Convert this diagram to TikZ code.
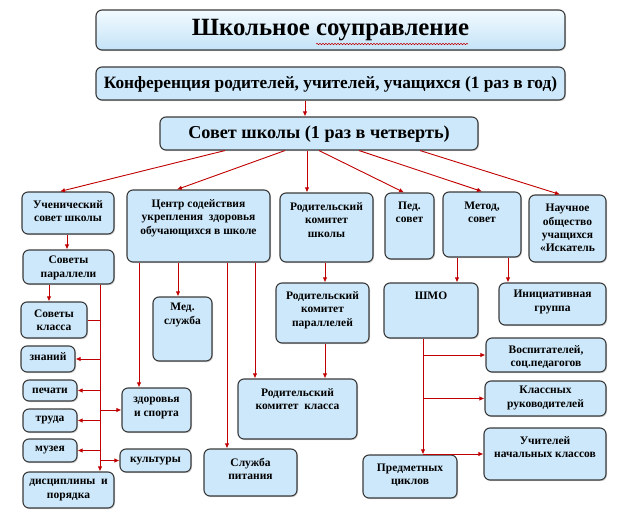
\documentclass[tikz,border=0pt]{standalone}
\usepackage{fontspec}
\setmainfont{Liberation Serif}
\usetikzlibrary{arrows.meta,shadows,calc,decorations.pathmorphing}
\definecolor{boxc}{HTML}{CDE8FA}
\definecolor{bordc}{HTML}{3A3A3A}
\definecolor{arrc}{HTML}{C00000}
\definecolor{titletop}{HTML}{F2FAFF}
\definecolor{titlebot}{HTML}{C4E3F7}
\tikzset{
 box/.style={draw=bordc, fill=boxc, line width=1.1pt, rounded corners=6pt, inner sep=0pt,
   drop shadow={shadow xshift=1pt,shadow yshift=-1.2pt,opacity=0.35}},
 lbl/.style={align=center, font=\bfseries\fontsize{11.5}{13.3}\selectfont, inner sep=0pt},
 arr/.style={draw=arrc, line width=0.9pt, -{Latex[length=5pt,width=4.5pt]}},
 ln/.style={draw=arrc, line width=0.9pt},
 squig/.style={decorate, decoration={snake, amplitude=0.7pt, segment length=3pt}, line width=0.5pt},
}
\newcommand{\mybox}[7]{%
 \node[box, minimum width={(#4-#2)*1pt}, minimum height={(#5-#3)*1pt}] (#1) at ({(#2+#4)/2},{-(#3+#5)/2}) {};
 \node[lbl] (#1t) at ({(#2+#4)/2},{-#6}) {#7};}
\begin{document}
\begin{tikzpicture}[x=1pt,y=1pt]
\useasboundingbox (0,0) rectangle (627,-514);
% title
\node[box, top color=titletop, bottom color=titlebot, minimum width=469pt, minimum height=40pt] (title) at (330.5,-30) {};
\node[font=\bfseries\fontsize{24.8}{26}\selectfont, inner sep=0pt] (titlet) at (330.5,-30) {Школьное соуправление};
\draw[arrc, squig] (316,-44) -- (468,-44);
% conference, council
\node[box, minimum width=469pt, minimum height=33pt] (conf) at (330.5,-83.5) {};
\node[font=\bfseries\fontsize{17.3}{19}\selectfont, inner sep=0pt] (conft) at (330.5,-84) {Конференция родителей, учителей, учащихся (1 раз в год)};
\node[box, minimum width=318pt, minimum height=33pt] (council) at (319,-133.5) {};
\node[font=\bfseries\fontsize{18.2}{20}\selectfont, inner sep=0pt] (councilt) at (319,-134) {Совет школы (1 раз в четверть)};
% boxes
\mybox{uch}{22}{192}{114}{234}{211}{Ученический\\совет школы}
\mybox{sovpar}{23}{250}{114}{284}{268}{Советы\\параллели}
\mybox{sovkl}{21}{302}{87}{338}{320}{Советы\\класса}
\mybox{znan}{21}{346}{75}{372}{357}{знаний}
\mybox{pech}{23}{380}{77}{401}{391}{печати}
\mybox{trud}{23}{409}{77}{432}{420}{труда}
\mybox{muz}{23}{439}{77}{462}{450}{музея}
\mybox{disc}{23}{472}{114}{508}{490}{дисциплины\ \ и\\порядка}
\mybox{centr}{127}{190}{270}{262}{218}{Центр содействия\\укрепления\ \ здоровья\\обучающихся в школе}
\mybox{med}{153}{297}{212}{361}{315}{Мед.\\служба}
\mybox{zdor}{122}{388}{191}{432}{408}{здоровья\\и спорта}
\mybox{kult}{120}{449}{191}{472}{461}{культуры}
\mybox{sluzh}{204}{449}{297}{496}{469}{Служба\\питания}
\mybox{rkk}{238}{379}{357}{439}{399}{Родительский\\комитет\ \ класса}
\mybox{rks}{280}{193}{373}{262}{220}{Родительский\\комитет\\школы}
\mybox{rkp}{276}{283}{369}{343}{310}{Родительский\\комитет\\параллелей}
\mybox{ped}{385}{193}{434}{259}{212}{Пед.\\совет}
\mybox{metod}{443}{192}{521}{257}{212}{Метод,\\совет}
\mybox{nauch}{529}{195}{606}{262}{228}{Научное\\общество\\учащихся\\«Искатель}
\mybox{shmo}{384}{283}{478}{338}{296}{ШМО}
\mybox{init}{499}{283}{606}{325}{302}{Инициативная\\группа}
\mybox{vosp}{486}{338}{606}{372}{357}{Воспитателей,\\соц.педагогов}
\mybox{klass}{485}{381}{606}{416}{398}{Классных\\руководителей}
\mybox{uchit}{484}{428}{606}{480}{447}{Учителей\\начальных классов}
\mybox{pred}{363}{455}{457}{498}{475}{Предметных\\циклов}
% connectors top
\draw[arr] (conf.south -| 305,0) -- (council.north -| 305,0);
\draw[arr] (council.south -| 225,0) -- (uch.north -| 60,0);
\draw[arr] (council.south -| 285,0) -- (centr.north -| 177,0);
\draw[arr] (council.south -| 307,0) -- (rks.north -| 307,0);
\draw[arr] (council.south -| 319,0) -- (ped.north -| 404,0);
\draw[arr] (council.south -| 359,0) -- (metod.north -| 482,0);
\draw[arr] (council.south -| 420,0) -- (nauch.north -| 560,0);
% left column
\draw[arr] (uch.south -| 67,0) -- (sovpar.north -| 67,0);
\draw[arr] (sovpar.south -| 49,0) -- (sovkl.north -| 49,0);
\draw[arr] (sovpar.south -| 100,0) -- (disc.north -| 100,0);
\draw[ln] (sovkl.east) -- (sovkl.east -| 100,0);
\draw[arr] (znan.east -| 100,0) -- (znan.east);
\draw[arr] (pech.east -| 100,0) -- (pech.east);
\draw[arr] (trud.east -| 100,0) -- (trud.east);
\draw[arr] (muz.east -| 100,0) -- (muz.east);
\draw[arr] (zdor.west -| 100,0) -- (zdor.west);
\draw[arr] (kult.west -| 100,0) -- (kult.west);
% centr
\draw[arr] (centr.south -| 139,0) -- (zdor.north -| 139,0);
\draw[arr] (centr.south -| 178,0) -- (med.north -| 178,0);
\draw[arr] (centr.south -| 227,0) -- (sluzh.north -| 227,0);
\draw[arr] (centr.south -| 255,0) -- (rkk.north -| 255,0);
% parents
\draw[arr] (rks.south -| 325,0) -- (rkp.north -| 325,0);
\draw[arr] (rkp.south -| 325,0) -- (rkk.north -| 325,0);
% metod
\draw[arr] (metod.south -| 457,0) -- (shmo.north -| 457,0);
\draw[arr] (metod.south -| 508,0) -- (init.north -| 508,0);
\draw[arr] (shmo.south -| 423,0) -- (pred.north -| 423,0);
\draw[arr] (vosp.west -| 423,0) -- (vosp.west);
\draw[arr] (klass.west -| 423,0) -- (klass.west);
\draw[arr] (uchit.west -| 423,0) -- (uchit.west);
\end{tikzpicture}
\end{document}
